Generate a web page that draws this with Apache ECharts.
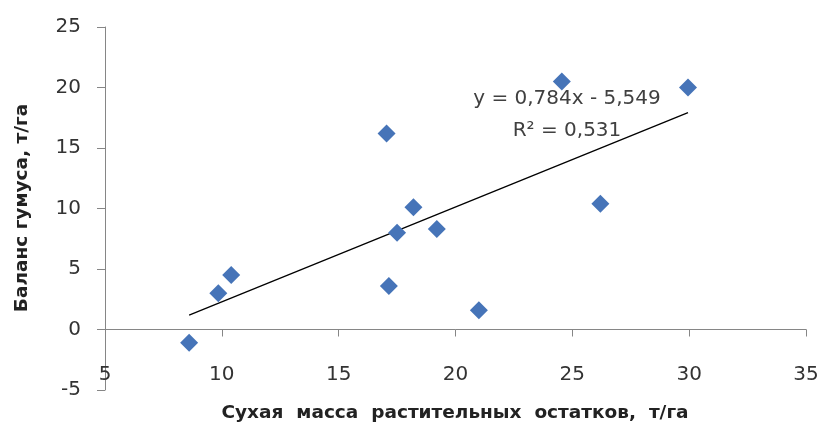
<!DOCTYPE html>
<html>
<head>
<meta charset="utf-8">
<script src="https://cdn.jsdelivr.net/npm/echarts@6/dist/echarts.min.js"></script>
<style>
html,body{margin:0;padding:0;background:#fff;}
#chart{width:823px;height:426px;}
</style>
</head>
<body>
<div id="chart"></div>
<script>
// Data
var dryMass = [8.6, 9.85, 10.4, 17.15, 17.5, 18.2, 19.2, 21.0, 26.2, 17.05, 24.55, 29.95];
var humusBalance = [-1.1, 3.0, 4.5, 3.6, 8.0, 10.1, 8.3, 1.6, 10.4, 16.2, 20.5, 20.0];
var trendX = [8.6, 29.95];
var trendY = [1.19, 17.93];
var xTicks = {min: 5, max: 35, interval: 5};
var yTicks = {min: -5, max: 25, interval: 5};
var xTitle = 'Сухая  масса  растительных  остатков,  т/га';
var yTitle = 'Баланс гумуса, т/га';
var eqText = 'y = 0,784x - 5,549';
var r2Text = 'R² = 0,531';

var points = dryMass.map(function (x, i) { return [x, humusBalance[i]]; });
var trend = trendX.map(function (x, i) { return [x, trendY[i]]; });

var chart = echarts.init(document.getElementById('chart'), null, {renderer: 'canvas'});
var font = 'DejaVu Sans';
chart.setOption({
  animation: false,
  backgroundColor: '#ffffff',
  grid: {left: 105, right: 17, top: 27, bottom: 36, containLabel: false, outerBoundsMode: 'none'},
  xAxis: {
    type: 'value', min: xTicks.min, max: xTicks.max, interval: xTicks.interval,
    axisLine: {onZero: true, lineStyle: {color: '#868686', width: 1}},
    axisTick: {show: true, length: 7, lineStyle: {color: '#868686'}},
    axisLabel: {inside: true, margin: 5, color: '#333', fontSize: 20, fontFamily: font},
    splitLine: {show: false}
  },
  yAxis: {
    type: 'value', min: yTicks.min, max: yTicks.max, interval: yTicks.interval,
    axisLine: {show: true, lineStyle: {color: '#868686', width: 1}},
    axisTick: {show: true, length: 8, lineStyle: {color: '#868686'}},
    axisLabel: {margin: 24, color: '#333', fontSize: 20, fontFamily: font},
    splitLine: {show: false}
  },
  series: [
    {
      type: 'line', data: trend, symbol: 'none', silent: true,
      lineStyle: {color: '#000000', width: 1.3}, z: 1
    },
    {
      type: 'scatter', data: points, symbol: 'diamond', symbolSize: 18,
      itemStyle: {color: '#4674B8', opacity: 1}, z: 2
    }
  ],
  graphic: [
    {type: 'text', x: 455, y: 413, style: {text: xTitle, fontFamily: font, fontWeight: 'bold', fontSize: 18.5, fill: '#222', textAlign: 'center', textVerticalAlign: 'middle'}},
    {type: 'text', x: 22, y: 208, rotation: Math.PI / 2, style: {text: yTitle, fontFamily: font, fontWeight: 'bold', fontSize: 18.5, fill: '#222', textAlign: 'center', textVerticalAlign: 'middle'}},
    {type: 'text', x: 567, y: 99, style: {text: eqText, fontFamily: font, fontSize: 20, fill: '#404040', textAlign: 'center', textVerticalAlign: 'middle'}},
    {type: 'text', x: 567, y: 131, style: {text: r2Text, fontFamily: font, fontSize: 20, fill: '#404040', textAlign: 'center', textVerticalAlign: 'middle'}}
  ]
});
</script>
</body>
</html>
